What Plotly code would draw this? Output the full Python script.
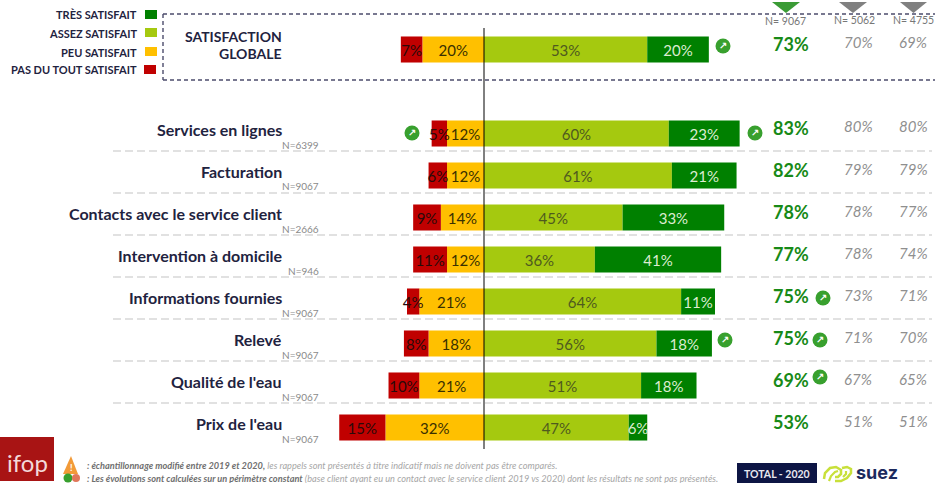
import plotly.graph_objects as go

W, H = 935, 483
ZERO_PX, PX_PER_UNIT = 484, 3.08
ROW0_PX, ROW_PX = 49.5, 42

rows = ["SATISFACTION GLOBALE", " ", "Services en lignes", "Facturation", "Contacts avec le service client",
        "Intervention à domicile", "Informations fournies", "Relevé", "Qualité de l'eau", "Prix de l'eau"]
pas_du_tout = [7, None, 5, 6, 9, 11, 4, 8, 10, 15]
peu = [20, None, 12, 12, 14, 12, 21, 18, 21, 32]
assez = [53, None, 60, 61, 45, 36, 64, 56, 51, 47]
tres = [20, None, 23, 21, 33, 41, 11, 18, 18, 6]
total_2020 = [73, None, 83, 82, 78, 77, 75, 75, 69, 53]
total_2019 = [70, None, 80, 79, 78, 78, 73, 71, 67, 51]
total_2018 = [69, None, 80, 79, 77, 74, 71, 70, 65, 51]
effectifs = [None, None, 6399, 9067, 2666, 946, 9067, 9067, 9067, 9067]
wave_n = [9067, 5062, 4755]
series_names = ["Pas du tout satisfait", "Peu satisfait", "Assez satisfait", "Très satisfait"]
COL = {"red": "#c00000", "orange": "#ffc000", "lime": "#a5c90f", "green": "#008000"}
FONT = "Lato, 'Open Sans', sans-serif"
NAVY = "#1f2340"

fig = go.Figure()
def neg(v): return [None if a is None else -a for a in v]
def lab(v): return ["" if a is None else f"{a}%" for a in v]
for name, vals, xs, col, tc in [
    (series_names[1], peu, neg(peu), COL["orange"], "#3a3000"),
    (series_names[0], pas_du_tout, neg(pas_du_tout), COL["red"], "#2a0a0a"),
    (series_names[2], assez, assez, COL["lime"], "#4f5a1f"),
    (series_names[3], tres, tres, COL["green"], "#dcecd0"),
]:
    fig.add_trace(go.Bar(y=rows, x=xs, name=name, orientation="h", width=0.62,
                         marker=dict(color=col, line=dict(width=0)), text=lab(vals),
                         textposition="inside", insidetextanchor="middle", textangle=0,
                         constraintext="none", insidetextfont=dict(family=FONT, size=15, color=tc),
                         hoverinfo="skip"))

def px(x): return x / W
def py(y): return 1 - y / H
ann, shp = [], []
def text(x, y, s, size, color, anchor="center", **kw):
    ann.append(dict(xref="paper", yref="paper", x=px(x), y=py(y), text=s, showarrow=False, xanchor=anchor,
                    yanchor="middle", font=dict(family=kw.pop("family", FONT), size=size, color=color), **kw))
def rect(x0, y0, x1, y1, col, **kw):
    shp.append(dict(type="rect", xref="paper", yref="paper", x0=px(x0), x1=px(x1), y0=py(y0), y1=py(y1),
                    fillcolor=col, line=dict(width=0), **kw))
def hdash(x0, x1, y, col, w, dash):
    shp.append(dict(type="line", xref="paper", yref="paper", x0=px(x0), x1=px(x1), y0=py(y), y1=py(y),
                    line=dict(color=col, width=w, dash=dash)))
def poly(points, fill=None, line=None, w=0):
    d = "M " + " L ".join(f"{px(a):.5f},{py(b):.5f}" for a, b in points) + (" Z" if fill else "")
    shp.append(dict(type="path", xref="paper", yref="paper", path=d, fillcolor=fill,
                    line=dict(color=line, width=w)))
def circle(cx, cy, r, col):
    shp.append(dict(type="circle", xref="paper", yref="paper", x0=px(cx - r), x1=px(cx + r), y0=py(cy + r),
                    y1=py(cy - r), fillcolor=col, line=dict(width=0)))
def up_icon(cx, cy):
    circle(cx, cy, 7.5, "#38a02e")
    text(cx, cy - 0.5, "<b>↗</b>", 10, "white", family="DejaVu Sans")

# row text + scores
for i, r in enumerate(rows):
    yc = ROW0_PX + ROW_PX * i
    if total_2020[i] is None:
        continue
    if i > 0:
        text(284, yc - 4, f"<b>{r}</b>", 16, NAVY, "right")
        text(321, yc + 11, f"N={effectifs[i]}", 10, "#8a8a8a", "right")
    ty = yc - 5.5
    text(791, ty, f"<b>{total_2020[i]}%</b>", 18, "#178a17")
    text(858, ty - 1.5, f"<i>{total_2019[i]}%</i>", 15, "#8f8f8f")
    text(913, ty - 1.5, f"<i>{total_2018[i]}%</i>", 15, "#8f8f8f")
    if i >= 2 and i < 9:
        hdash(113, 932, yc + 17.5, "#c4c4c4", 1.2, "8px,4px")

text(284, 37, "<b>SATISFACTION</b>", 14, NAVY, "right")
text(284, 54, "<b>GLOBALE</b>", 14, NAVY, "right")

# dashed box
hdash(163, 935, 14, "#4c4c6c", 1.4, "4px,3px")
hdash(163, 935, 80, "#4c4c6c", 1.4, "4px,3px")
shp.append(dict(type="line", xref="paper", yref="paper", x0=px(163), x1=px(163), y0=py(14), y1=py(80),
                line=dict(color="#4c4c6c", width=1.4, dash="4px,3px")))
# zero line
shp.append(dict(type="line", xref="x", yref="paper", x0=0, x1=0, y0=py(28), y1=py(449),
                line=dict(color="#000000", width=1)))

# legend
for y, s, col, x0 in [(15, "TRÈS SATISFAIT", COL["green"], 145), (33, "ASSEZ SATISFAIT", COL["lime"], 145),
                      (52, "PEU SATISFAIT", COL["orange"], 145), (70, "PAS DU TOUT SATISFAIT", COL["red"], 144)]:
    text(139, y, f"<b>{s}</b>", 11, NAVY, "right")
    rect(x0, y - 5, x0 + 12, y + 4, col)

# wave markers
for xa, xb, col, n, cx, yn in [(772, 800, "#3a9b35", wave_n[0], 785, 21), (839, 867, "#808080", wave_n[1], 854, 20),
                               (900, 927, "#808080", wave_n[2], 913.5, 20)]:
    poly([(xa, 2), (xb, 2), ((xa + xb) / 2, 13)], fill=col)
    text(cx, yn, f"N= {n}", 10.5, "#777777")

# evolution icons
for cx, cy in [(723, 46), (412, 133), (755, 133), (823, 298), (725, 340), (820, 340), (820, 377)]:
    up_icon(cx, cy)

# footer
rect(0, 437, 54, 481, "#a81414")
text(27, 462, "ifop", 24, "#f3d9d9")
poly([(63, 474), (71, 456), (78, 474)], fill="#f29a38")
text(71, 467, "<b>!</b>", 9, "white")
circle(68, 478, 4.5, "#38a02e")
circle(76, 478, 4, "#e0775a")
BOLD = "<span style='color:#6f6f6f'><b><i>%s</i></b></span>"
text(85, 465, BOLD % ": échantillonnage modifié entre 2019 et 2020," + "<i> les rappels sont présentés à titre indicatif mais ne doivent pas être comparés.</i>",
     9.2, "#a6a6a6", "left")
text(85, 478, BOLD % ": Les évolutions sont calculées sur un périmètre constant" + "<i> (base client ayant eu un contact avec le service client 2019 vs 2020) dont les résultats ne sont pas présentés.</i>",
     9.2, "#a6a6a6", "left")
rect(737, 463, 817, 483, "#0d1544")
text(777, 474, "<b>TOTAL - 2020</b>", 10.5, "#e8e8f0")
poly([(824, 479), (825, 473), (830, 468), (836, 467), (841, 470), (841, 474), (838, 477), (835, 477)], line="#c8e03a", w=2.5)
poly([(829, 481), (831, 476), (835, 472), (838, 471)], line="#c8e03a", w=2.2)
poly([(835, 481), (841, 481), (847, 478), (851, 473), (851, 469), (847, 467), (842, 468)], line="#c8e03a", w=2.5)
poly([(843, 477), (846, 474), (846, 471)], line="#c8e03a", w=2.2)
text(877, 472, "<b>suez</b>", 18, "#1c2a5e", family="Inter, sans-serif")

fig.update_layout(
    width=W, height=H, margin=dict(l=0, r=0, t=0, b=0), paper_bgcolor="white", plot_bgcolor="white",
    barmode="relative", showlegend=False, annotations=ann, shapes=shp,
    xaxis=dict(visible=False, range=[-ZERO_PX / PX_PER_UNIT, (W - ZERO_PX) / PX_PER_UNIT], fixedrange=True),
    yaxis=dict(visible=False, type="category", categoryorder="array", categoryarray=rows,
               range=[(H - ROW0_PX) / ROW_PX, -ROW0_PX / ROW_PX], fixedrange=True),
)
fig.write_html("out.html", config=dict(displayModeBar=False),
               post_script="document.body.style.margin='0';document.body.style.overflow='hidden';")
